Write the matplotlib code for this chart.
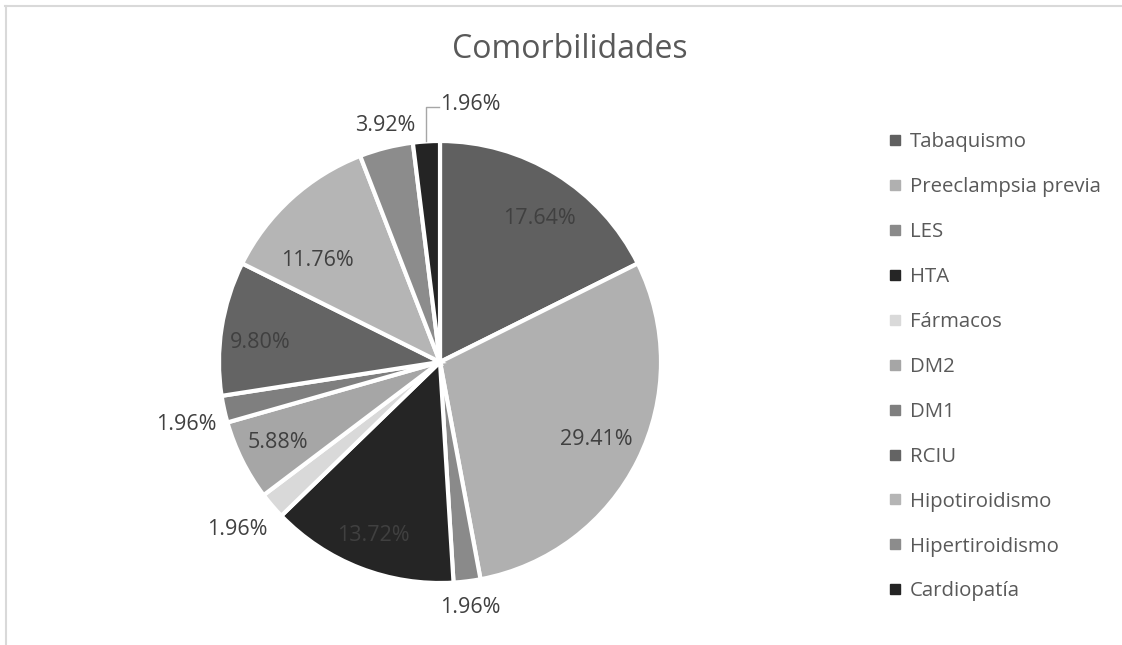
import numpy as np
import matplotlib.pyplot as plt
from matplotlib.lines import Line2D

plt.rcParams['font.family'] = ['Open Sans', 'DejaVu Sans']

labels = ['Tabaquismo', 'Preeclampsia previa', 'LES', 'HTA', 'Fármacos', 'DM2',
          'DM1', 'RCIU', 'Hipotiroidismo', 'Hipertiroidismo', 'Cardiopatía']
pct = [17.64, 29.41, 1.96, 13.72, 1.96, 5.88, 1.96, 9.80, 11.76, 3.92, 1.96]
colors = ['#606060', '#b0b0b0', '#8a8a8a', '#252525', '#d9d9d9', '#a6a6a6',
          '#7f7f7f', '#646464', '#b5b5b5', '#8c8c8c', '#242424']
# label placement: radius fraction and angular nudge (degrees)
label_r = [0.79, 0.79, 1.12, 0.84, 1.19, 0.82, 1.18, 0.82, 0.72, 1.10, 1.12]
label_dt = [-3, 0, 0, 0, -1, 0, 1.5, 2.7, 8, -1, 0]

W, H = 1122, 645
fig = plt.figure(figsize=(W / 100, H / 100), dpi=100)
cx, cy, R = 440, 362, 221
ax = fig.add_axes([(cx - R) / W, (H - cy - R) / H, 2 * R / W, 2 * R / H])
wedges, _ = ax.pie(pct, colors=colors, startangle=90, counterclock=False,
                   wedgeprops=dict(edgecolor='white', linewidth=3))
ax.set_xlim(-1, 1)
ax.set_ylim(-1, 1)
ax.set_aspect('equal')
ax.axis('off')

txt = '#404040'
fs = 15.5
for i, w in enumerate(wedges):
    mid = (w.theta1 + w.theta2) / 2
    ang = np.deg2rad(mid + label_dt[i])
    r = label_r[i]
    x, y = r * np.cos(ang), r * np.sin(ang)
    s = '%.2f%%' % pct[i]
    if labels[i] == 'Cardiopatía':
        # leader line up and to the right
        a0 = np.deg2rad(mid)
        x0, y0 = np.cos(a0), np.sin(a0)
        ax.plot([x0, x0, x0 + 0.055], [y0, y0 + 0.155, y0 + 0.155],
                color='#a6a6a6', lw=1, clip_on=False)
        ax.text(x0 + 0.06, y0 + 0.165, s, ha='left', va='center',
                fontsize=fs, color=txt)
    else:
        ax.text(x, y, s, ha='center', va='center', fontsize=fs, color=txt)

fig.text(570 / W, 1 - 50 / H, 'Comorbilidades', ha='center', va='center',
         fontsize=23, color='#595959')

handles = [Line2D([], [], marker='s', ls='', markersize=6.5, color=c) for c in colors]
fig.legend(handles, labels, loc='upper left', bbox_to_anchor=(869 / W, 1 - 114 / H),
           frameon=False, fontsize=14.7, labelcolor='#595959', handlelength=0.7,
           handletextpad=0.4, labelspacing=1.22)

# chart area border
fig.add_artist(Line2D([5 / W, 1], [1 - 6 / H, 1 - 6 / H], color='#d9d9d9', lw=1.5))
fig.add_artist(Line2D([6 / W, 6 / W], [0, 1 - 6 / H], color='#d9d9d9', lw=1.5))

fig.savefig('out.png', dpi=100, facecolor='white')
